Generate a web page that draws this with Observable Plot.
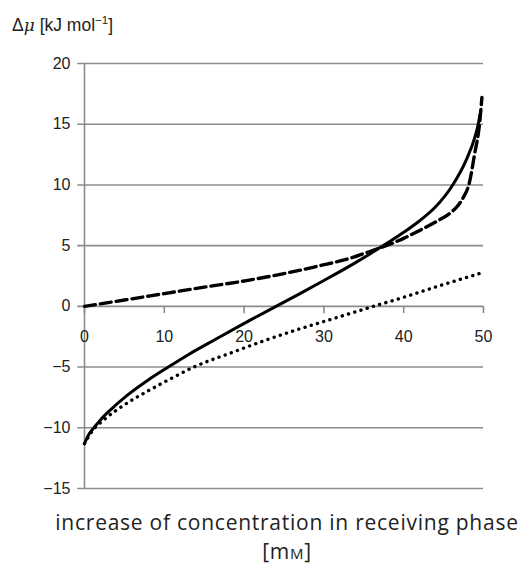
<!DOCTYPE html>
<html>
<head>
<meta charset="utf-8">
<script src="https://cdn.jsdelivr.net/npm/d3@7"></script>
<script src="https://cdn.jsdelivr.net/npm/@observablehq/plot@0.6"></script>
<style>
  html, body { margin: 0; padding: 0; background: #fff; }
  #wrap { position: relative; width: 523px; height: 567px; overflow: hidden; }
  #wrap svg { position: absolute; left: 0; top: 0; }
  .ytitle { position: absolute; left: 12px; top: 13px; font-family: "Liberation Sans", Arial, sans-serif; font-size: 17.5px; line-height: 24px; color: #222; white-space: nowrap; }
  .ytitle i { font-family: "DejaVu Serif", serif; font-size: 17px; }
  .ytitle sup { font-size: 11.5px; vertical-align: 7px; line-height: 0; }
  .xtitle { position: absolute; transform: translateX(-50%); left: 287px; font-family: "Open Sans", sans-serif; font-size: 21px; letter-spacing: 0.75px; line-height: 28px; color: #222; white-space: nowrap; }
  .sc { font-size: 15px; }
</style>
</head>
<body>
<div id="wrap">
  <div class="ytitle">Δ<i>μ</i> [kJ mol<sup>−1</sup>]</div>
  <div class="xtitle" style="top:508px">increase of concentration in receiving phase</div>
  <div class="xtitle" style="top:537px">[m<span class="sc">M</span>]</div>
</div>
<script>
// Tick values
const xTicks = [0, 10, 20, 30, 40, 50];
const yTicks = [-15, -10, -5, 0, 5, 10, 15, 20];

// Solid curve
const solidX = [0, 0.5, 1.17, 2, 3.3, 5.3, 7.9, 10.5, 13, 16.6, 21, 24, 27, 30, 33.7, 37.2, 40, 42, 44, 46, 47.8, 48.9, 49.4, 49.55];
const solidY = [-11.3, -10.6, -10.0, -9.35, -8.5, -7.35, -6.1, -5.0, -3.98, -2.65, -1.05, 0, 1.05, 2.13, 3.5, 4.9, 6.1, 7.05, 8.2, 9.85, 12.0, 13.9, 15.2, 15.8];

// Dashed curve
const dashX = [0, 5, 10, 15, 20.3, 25, 29.5, 33.7, 35, 37.2, 40, 42, 44, 45.75, 46.6, 47.5, 48.2, 48.9, 49.5, 49.8];
const dashY = [0, 0.52, 1.05, 1.58, 2.12, 2.7, 3.35, 4.05, 4.35, 4.85, 5.6, 6.25, 6.95, 7.65, 8.15, 9.0, 10.1, 12.6, 15.0, 17.2];

// Dotted curve
const dotX = [0, 1, 2.5, 4, 6.25, 8, 10.4, 13.7, 18.7, 22, 27, 30, 36.2, 40, 45, 50];
const dotY = [-11.3, -10.25, -9.3, -8.55, -7.6, -6.95, -6.1, -5.0, -3.75, -2.95, -1.85, -1.25, 0, 0.75, 1.8, 2.8];

const toRows = (xs, ys) => xs.map((x, i) => ({x, y: ys[i]}));
const solid = toRows(solidX, solidY);
const dashed = toRows(dashX, dashY);
const dotted = toRows(dotX, dotY);

const fmt = d => d < 0 ? "\u2212" + Math.abs(d) : String(d);
const gray = "#8c8c8c";

const chart = Plot.plot({
  width: 523,
  height: 567,
  marginTop: 63,
  marginBottom: 79,
  marginLeft: 84,
  marginRight: 40,
  x: {domain: [0, 50], axis: null},
  y: {domain: [-15, 20], axis: null},
  style: {fontFamily: "'Liberation Sans', Arial, sans-serif", fontSize: "16px", color: "#222", background: "transparent"},
  marks: [
    Plot.ruleY(yTicks, {x1: -0.85, x2: 50, stroke: gray, strokeWidth: 1.6}),
    Plot.ruleX([0], {y1: -15, y2: 20, stroke: gray, strokeWidth: 1.6}),
    Plot.ruleX(xTicks, {y1: 0, y2: -0.6, stroke: gray, strokeWidth: 1.6}),
    Plot.text(yTicks, {x: 0, y: d => d, dx: -14, textAnchor: "end", text: fmt, fill: "#222", fontSize: 16}),
    Plot.text(xTicks, {x: d => d, y: 0, dy: 31, text: fmt, fill: "#222", fontSize: 16}),
    Plot.line(dotted, {x: "x", y: "y", stroke: "#000", strokeWidth: 3.4, strokeDasharray: "0.1,6.4", strokeLinecap: "round", curve: "monotone-x"}),
    Plot.line(dashed, {x: "x", y: "y", stroke: "#000", strokeWidth: 3.4, strokeDasharray: "11,5", curve: "monotone-x"}),
    Plot.line(solid, {x: "x", y: "y", stroke: "#000", strokeWidth: 3, curve: "monotone-x"})
  ]
});
document.getElementById("wrap").prepend(chart);
</script>
</body>
</html>
